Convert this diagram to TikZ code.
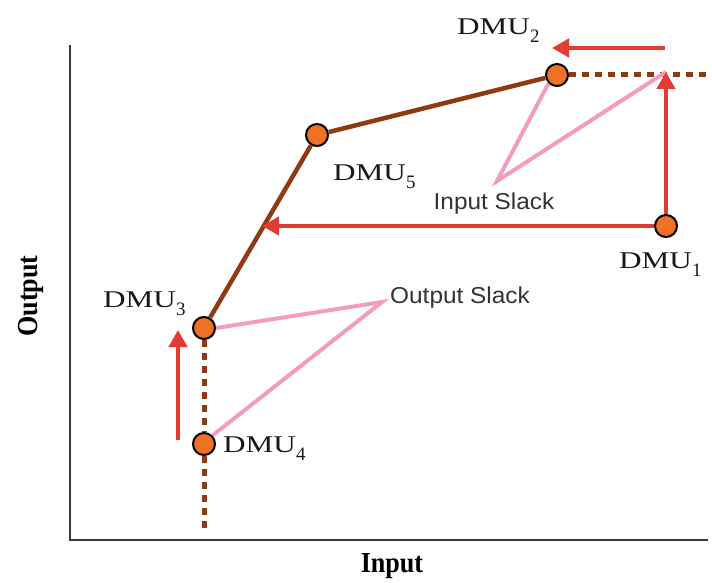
\documentclass[tikz,border=0pt]{standalone}
\usepackage{fontspec}
\usetikzlibrary{arrows.meta}
\setmainfont{Liberation Serif}
\newfontfamily\dmufont[FakeStretch=1.3]{Liberation Serif}
\newfontfamily\subfont{Liberation Serif}
\newfontfamily\slackfont[FakeStretch=1.06]{Liberation Sans}
\newfontfamily\axisfont[FakeStretch=0.9]{Liberation Serif}
\newcommand{\dmulabel}[1]{{\dmufont\fontsize{24}{24}\selectfont DMU}\raisebox{-8pt}{\subfont\fontsize{19}{19}\selectfont #1}}
\definecolor{frontier}{HTML}{8E3A14}
\definecolor{slackred}{HTML}{E23B33}
\definecolor{slackpink}{HTML}{F29CC2}
\definecolor{dmuorange}{HTML}{EE7126}
\definecolor{axisgray}{HTML}{3A3A3A}
\tikzset{
  dmuspot/.style={circle, minimum size=24pt, inner sep=0pt},
  dmudot/.style={fill=dmuorange, draw=black, line width=2pt},
  dmutext/.style={anchor=base west, inner sep=0pt, text=black!90},
  slacktext/.style={anchor=base, inner sep=0pt, text=black!80, font=\slackfont\fontsize{23}{23}\selectfont},
  frontierline/.style={draw=frontier, line width=4.5pt},
  dottedline/.style={draw=frontier, line width=5pt, dash pattern=on 7pt off 6pt},
  movearrow/.style={draw=slackred, line width=4.5pt, -{Triangle[length=17pt,width=18pt]}},
  pointer/.style={draw=slackpink, line width=4pt},
  axisline/.style={draw=axisgray, line width=2pt},
}
\begin{document}
\begin{tikzpicture}[x=1pt,y=-1pt]
  \path[use as bounding box] (0,0) rectangle (712,583);

  % axes
  \coordinate (origin) at (70,540);
  \coordinate (ytop) at (70,45);
  \coordinate (xend) at (708,540);
  \draw[axisline] (ytop) -- (origin) -- (xend);
  \node[font=\axisfont\bfseries\fontsize{29}{29}\selectfont, anchor=base] (xlabel) at (392,572) {Input};
  \node[font=\axisfont\bfseries\fontsize{29}{29}\selectfont, rotate=90, anchor=base] (ylabel) at (37,296) {Output};

  % reference points for dotted extensions and arrows
  \coordinate (d2right) at (708,75);
  \coordinate (d3bottom) at (204,530);
  \coordinate (proj1) at (262,226);
  \coordinate (proj1up) at (666,72);
  \coordinate (topstart) at (665,48);
  \coordinate (topend) at (552,48);
  \coordinate (upstart) at (178,440);
  \coordinate (upend) at (178,330);
  \coordinate (inslack) at (497,181);
  \coordinate (outslack) at (382,302);

  % DMU positions
  \node[dmuspot] (d1) at (666,226) {};
  \node[dmuspot] (d2) at (557,75) {};
  \node[dmuspot] (d3) at (204,328) {};
  \node[dmuspot] (d4) at (204,444) {};
  \node[dmuspot] (d5) at (317,135) {};

  % dotted extensions of the frontier
  \draw[dottedline] (d2.east) -- (d2right);
  \draw[dottedline] (d3.south) -- (d4.north);
  \draw[dottedline] (d4.south) -- (d3bottom);

  % efficient frontier
  \draw[frontierline] (d3) -- (d5) -- (d2);

  % slack pointers
  \draw[pointer] (d2.south west) -- (inslack) -- (proj1up);
  \draw[pointer] (d3.east) -- (outslack) -- (d4.north east);

  % projections
  \draw[movearrow] (d1.west) -- (proj1);
  \draw[movearrow] (d1.north) -- (proj1up);
  \draw[movearrow] (topstart) -- (topend);
  \draw[movearrow] (upstart) -- (upend);

  % points on top of the lines
  \foreach \p in {d1,d2,d3,d4,d5}
    \draw[dmudot] (\p) circle (11pt);

  % labels
  \node[dmutext] (l1) at (619,268) {\dmulabel{1}};
  \node[dmutext] (l2) at (457,35) {\dmulabel{2}};
  \node[dmutext] (l3) at (103,307) {\dmulabel{3}};
  \node[dmutext] (l4) at (223,452) {\dmulabel{4}};
  \node[dmutext] (l5) at (333,180) {\dmulabel{5}};
  \node[slacktext] (ins) at (494,209) {Input Slack};
  \node[slacktext] (outs) at (460,303) {Output Slack};
\end{tikzpicture}
\end{document}
